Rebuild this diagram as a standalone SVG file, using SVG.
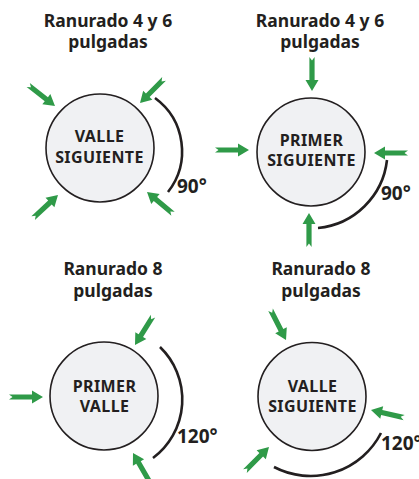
<svg xmlns="http://www.w3.org/2000/svg" width="419" height="479" viewBox="0 0 419 479">
<style>
.bg{fill:#ffffff}
.node{fill:#f0f1f3;stroke:#231f20;stroke-width:1.6}
.t{font-family:"Noto Sans","Open Sans",sans-serif;font-weight:700;fill:#231f20;text-anchor:middle}
.title{font-size:17.5px}
.lbl{font-size:16px;letter-spacing:0.4px}
.deg{font-family:"Noto Sans","Open Sans",sans-serif;font-weight:700;fill:#231f20;font-size:19px}
.arc{fill:none;stroke:#231f20;stroke-width:2.6;stroke-linecap:butt}
.arr{fill:#2f9a48}
</style>
<defs>
<path id="ar" class="arr" d="M0,0 L-11,-6.5 L-11,-2.6 L-34,-2.6 L-30.5,0 L-34,2.6 L-11,2.6 L-11,6.5 Z"/>
</defs>
<rect class="bg" x="0" y="0" width="419" height="479"/>

<g id="panel1">
<text class="t title" x="108" y="27">Ranurado 4 y 6</text>
<text class="t title" x="108" y="48">pulgadas</text>
<g id="node1">
<circle class="node" cx="100" cy="148" r="54"/>
<text class="t lbl" x="99.5" y="142">VALLE</text>
<text class="t lbl" x="99.5" y="163">SIGUIENTE</text>
</g>
<text class="deg" x="177" y="193">90°</text>
</g>

<g id="panel2">
<text class="t title" x="320" y="27">Ranurado 4 y 6</text>
<text class="t title" x="320" y="48">pulgadas</text>
<g id="node2">
<circle class="node" cx="311" cy="152" r="54"/>
<text class="t lbl" x="311.5" y="146">PRIMER</text>
<text class="t lbl" x="311.5" y="166">SIGUIENTE</text>
</g>
<text class="deg" x="381" y="200">90°</text>
</g>

<g id="panel3">
<text class="t title" x="113" y="275">Ranurado 8</text>
<text class="t title" x="113" y="297">pulgadas</text>
<g id="node3">
<circle class="node" cx="104" cy="396" r="54"/>
<text class="t lbl" x="104.5" y="392">PRIMER</text>
<text class="t lbl" x="104.5" y="412">VALLE</text>
</g>
<text class="deg" x="177" y="443">120°</text>
</g>

<g id="panel4">
<text class="t title" x="321" y="275">Ranurado 8</text>
<text class="t title" x="321" y="297">pulgadas</text>
<g id="node4">
<circle class="node" cx="312" cy="396.5" r="54"/>
<text class="t lbl" x="312.5" y="392">VALLE</text>
<text class="t lbl" x="312.5" y="412">SIGUIENTE</text>
</g>
<text class="deg" x="381" y="450">120°</text>
</g>

<g id="connectors">
<path class="arc" d="M155,98 A66,66 0 0 1 168,192"/>
<path class="arc" d="M387,160 A77,77 0 0 1 318,228"/>
<path class="arc" d="M160,347 A73,73 0 0 1 153,458"/>
<path class="arc" d="M381,433 A79,79 0 0 1 274,467"/>

<use href="#ar" transform="translate(55,106) rotate(38)"/>
<use href="#ar" transform="translate(140,103) rotate(135)"/>
<use href="#ar" transform="translate(58,195) rotate(-43)"/>
<use href="#ar" transform="translate(147,192) rotate(-140)"/>

<use href="#ar" transform="translate(312,91) rotate(90)"/>
<use href="#ar" transform="translate(249,150) rotate(0)"/>
<use href="#ar" transform="translate(374,153) rotate(180)"/>
<use href="#ar" transform="translate(309,213) rotate(-90)"/>

<use href="#ar" transform="translate(135,345) rotate(122)"/>
<use href="#ar" transform="translate(43,397) rotate(0)"/>
<use href="#ar" transform="translate(133,453) rotate(-120)"/>

<use href="#ar" transform="translate(286,340) rotate(63)"/>
<use href="#ar" transform="translate(371,410) rotate(193)"/>
<use href="#ar" transform="translate(269,447) rotate(-45)"/>
</g>
</svg>
